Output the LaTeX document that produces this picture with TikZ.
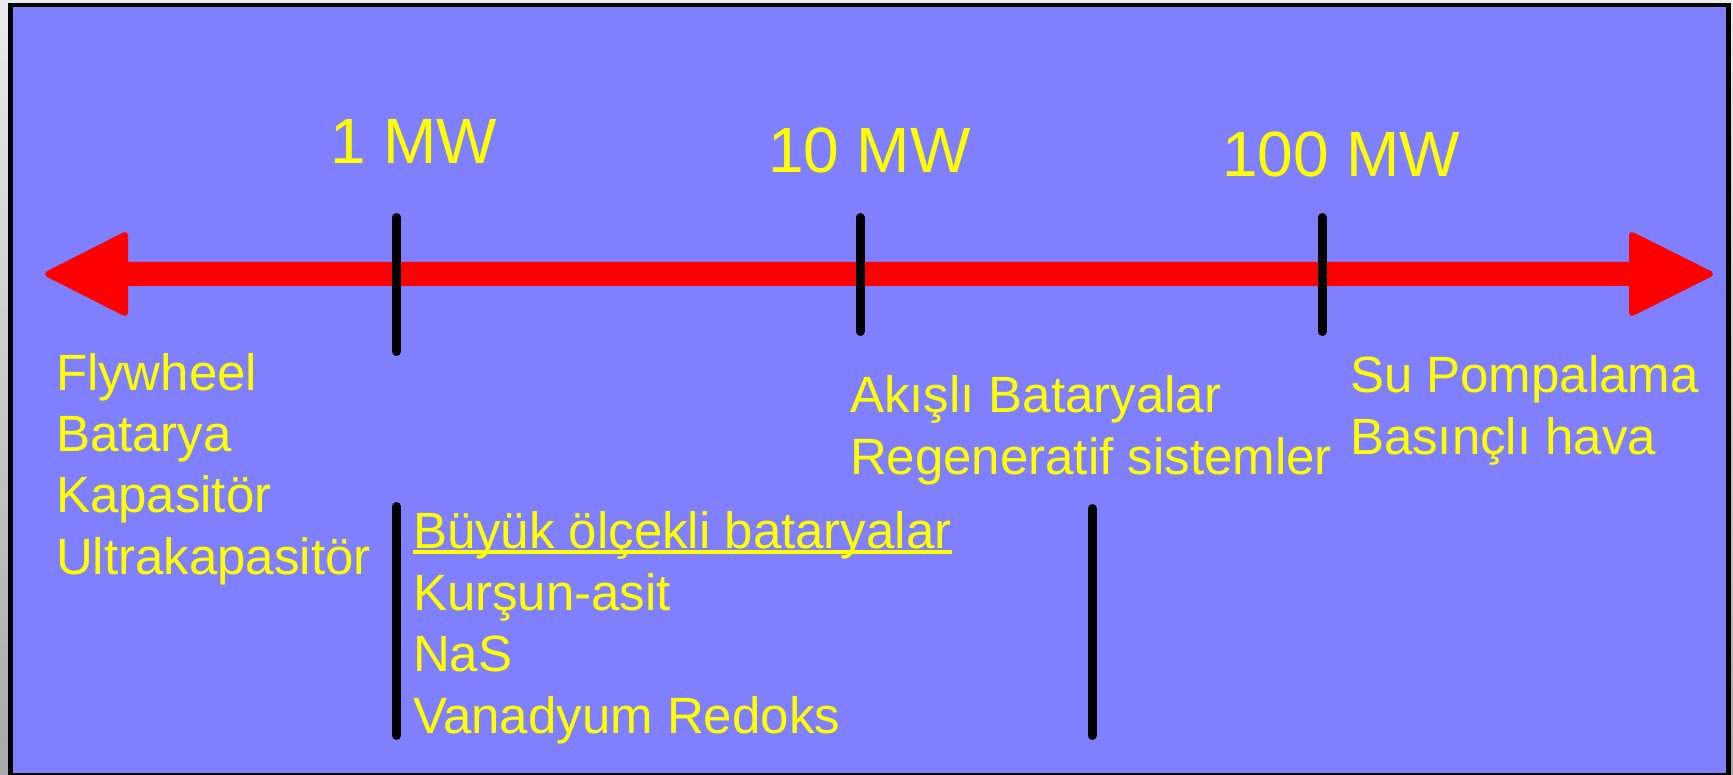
\documentclass[tikz,border=0pt]{standalone}
\usepackage{fontspec}
\setmainfont{Liberation Sans}
\definecolor{bg}{HTML}{8080FF}
\definecolor{txt}{HTML}{FFFF00}
\definecolor{arr}{HTML}{FF0000}
\begin{document}
\begin{tikzpicture}[x=1pt,y=-1pt,
  big/.style={text=txt, inner sep=0pt, outer sep=0pt, anchor=base west, font=\fontsize{64}{70}\selectfont},
  item/.style={text=txt, inner sep=0pt, outer sep=0pt, anchor=base west, font=\fontsize{51}{60}\selectfont},
  tickline/.style={line width=9pt, line cap=round, draw=black}]
\useasboundingbox (0,0) rectangle (1733,775);
% outer grey surround and frame
\shade[top color=black!8, bottom color=black!34] (0,0) rectangle (1733,775);
\fill[black] (8,2.7) rectangle (1731,775);
\fill[bg] (13,7.3) rectangle (1726,773);
% double-headed red arrow
\filldraw[arr, line width=6pt, line join=round]
  (48,274) -- (125,235) -- (125,265) -- (1632,265) -- (1632,235) -- (1710,274)
  -- (1632,313) -- (1632,283) -- (125,283) -- (125,313) -- cycle;
% ticks
\coordinate (t1a) at (396.5,217.5); \coordinate (t1b) at (396.5,351.5);
\coordinate (t2a) at (860,217.5);   \coordinate (t2b) at (860,331.5);
\coordinate (t3a) at (1322,217.5);  \coordinate (t3b) at (1322,331.5);
\coordinate (u1a) at (396.5,506.5); \coordinate (u1b) at (396.5,735.5);
\coordinate (u2a) at (1092,508.5);  \coordinate (u2b) at (1092,735.5);
\draw[tickline] (t1a) -- (t1b);
\draw[tickline] (t2a) -- (t2b);
\draw[tickline] (t3a) -- (t3b);
\draw[tickline] (u1a) -- (u1b);
\draw[tickline] (u2a) -- (u2b);
% scale labels
\node[big] (l1) at (330,164) {1 MW};
\node[big] (l10) at (768,173) {10 MW};
\node[big] (l100) at (1222,177) {100 MW};
% left list
\node[item] (fw) at (56,391) {Flywheel};
\node[item] (bt) at (56,451.5) {Batarya};
\node[item] (kp) at (56,512.5) {Kapasitör};
\node[item] (uk) at (56,574) {Ultrakapasitör};
% middle list
\node[item] (bl) at (413,548) {Büyük ölçekli bataryalar};
\draw[txt, line width=3.5pt] ([yshift=-4pt]bl.base west) -- ([yshift=-4pt]bl.base east);
\node[item] (ks) at (413,610) {Kurşun-asit};
\node[item] (ns) at (413,671) {NaS};
\node[item] (vr) at (413,733) {Vanadyum Redoks};
% flow batteries
\node[item] (ab) at (850,413) {Akışlı Bataryalar};
\node[item] (rs) at (850,475) {Regeneratif sistemler};
% pumped hydro
\node[item] (sp) at (1350,393) {Su Pompalama};
\node[item] (bh) at (1350,455) {Basınçlı hava};
\end{tikzpicture}
\end{document}
